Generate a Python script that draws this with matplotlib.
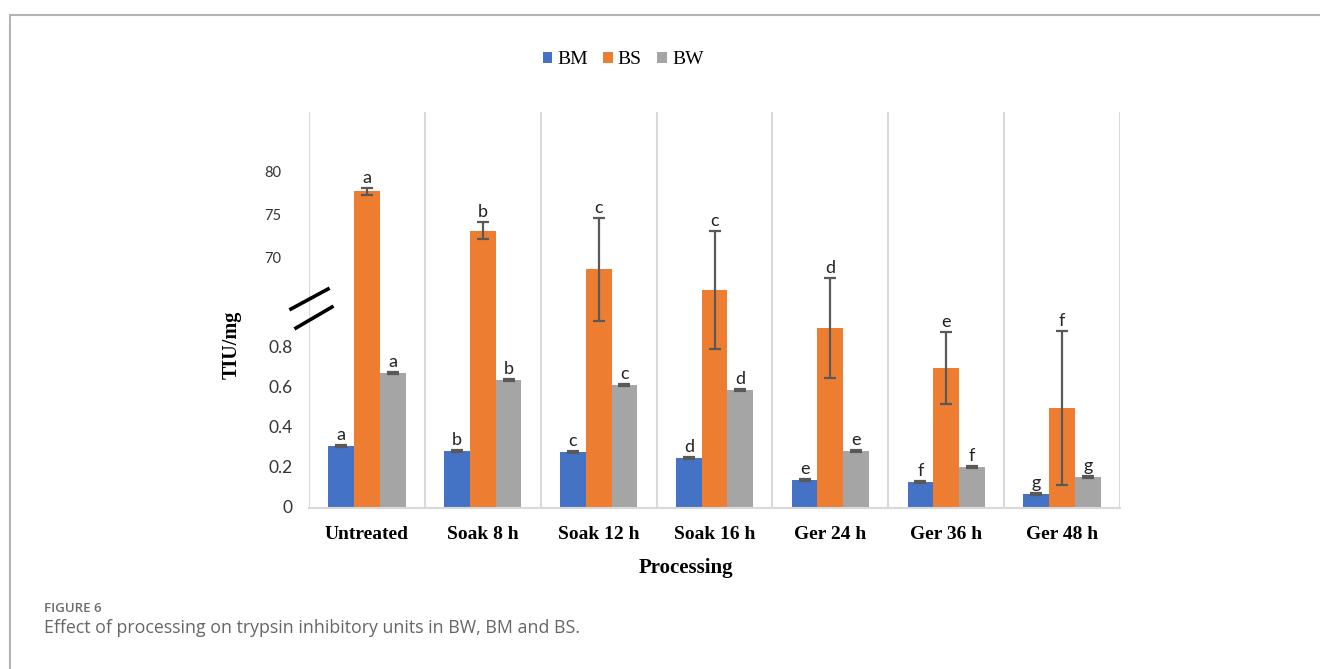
import numpy as np
import matplotlib
matplotlib.use("Agg")
import matplotlib.pyplot as plt
from matplotlib.patches import Patch, Rectangle
from matplotlib.lines import Line2D

# trypsin inhibitory units (TIU/mg) per processing step
groups = ["Untreated", "Soak 8 h", "Soak 12 h", "Soak 16 h", "Ger 24 h", "Ger 36 h", "Ger 48 h"]
series = ["BM", "BS", "BW"]

bm = np.array([0.31, 0.285, 0.28, 0.25, 0.14, 0.13, 0.07])
bs = np.array([77.9, 73.3, 68.8, 66.4, 0.90, 0.70, 0.50])
bw = np.array([0.675, 0.64, 0.615, 0.59, 0.285, 0.205, 0.155])

bm_err = np.array([0.004, 0.004, 0.004, 0.004, 0.004, 0.004, 0.004])
bs_err = np.array([0.4, 1.0, 6.0, 6.9, 0.25, 0.18, 0.385])
bw_err = np.array([0.006, 0.006, 0.005, 0.005, 0.005, 0.005, 0.005])

bm_letters = ["a", "b", "c", "d", "e", "f", "g"]
bs_letters = ["a", "b", "c", "c", "d", "e", "f"]
bw_letters = ["a", "b", "c", "d", "e", "f", "g"]

low_ticks = [0, 0.2, 0.4, 0.6, 0.8]
high_ticks = [70, 75, 80]

colors = ["#4472C4", "#ED7D31", "#A5A5A5"]

# broken axis: small values drawn as is, large ones squeezed above the break
BREAK_BASE = 1.245
BREAK_SCALE = 0.043


def to_axis(v):
    v = np.asarray(v, dtype=float)
    return np.where(v > 10, BREAK_BASE + (v - 70) * BREAK_SCALE, v)


W, H = 1320, 669
fig = plt.figure(figsize=(W / 100, H / 100), dpi=100)

# outer frame
fig.add_artist(Rectangle((10 / W, -0.1), 1.2, 1 - 15 / H + 0.1, transform=fig.transFigure,
                         fill=False, edgecolor="#b4b4b4", lw=1.5))

ax = fig.add_axes([309 / W, 1 - 508 / H, (1120 - 309) / W, (508 - 112) / H])
ax.set_xlim(-0.5, len(groups) - 0.5)
ax.set_ylim(0, 1.98)

x = np.arange(len(groups))
bw_width = 0.222
offsets = [-bw_width, 0, bw_width]

for vals, errs, letters, off, c in zip([bm, bs, bw], [bm_err, bs_err, bw_err],
                                       [bm_letters, bs_letters, bw_letters], offsets, colors):
    tops = to_axis(vals)
    lo = to_axis(vals - errs)
    hi = to_axis(vals + errs)
    ax.bar(x + off, tops, width=bw_width, color=c, zorder=2)
    ax.errorbar(x + off, tops, yerr=[tops - lo, hi - tops], fmt="none", ecolor="#595959",
                elinewidth=1.6, capsize=4, capthick=1.6, zorder=3)
    for xi, h, lab in zip(x + off, hi, letters):
        ax.text(xi, h + 0.01, lab, ha="center", va="bottom", fontsize=13,
                family="Lato", color="#222222", zorder=4)

# category separators
for xv in np.arange(-0.5, len(groups), 1.0):
    ax.axvline(xv, color="#d9d9d9", lw=1.5, zorder=1)

for s in ["top", "right", "left"]:
    ax.spines[s].set_visible(False)
ax.spines["bottom"].set_color("#d9d9d9")
ax.spines["bottom"].set_linewidth(1.5)

ax.set_yticks([])
ax.set_xticks(x)
ax.set_xticklabels(groups, family="Liberation Serif", fontweight="bold", fontsize=14)
ax.tick_params(axis="x", length=0, pad=13)

ytrans = ax.get_yaxis_transform()
for t in low_ticks:
    ax.text(-0.02, t, f"{t:g}", transform=ytrans, ha="right", va="center",
            fontsize=12.5, family="Lato", color="#333333")
for t in high_ticks:
    ax.text(-0.034, to_axis(t), f"{t}", transform=ytrans, ha="right", va="center",
            fontsize=10.5, family="Lato", color="#333333")

# break marks
for (x0, y0, x1, y1) in [(291, 309, 328, 289), (296, 328, 332, 307)]:
    fig.add_artist(Line2D([x0 / W, x1 / W], [1 - y0 / H, 1 - y1 / H],
                          transform=fig.transFigure, color="black", lw=2.6))

fig.text(232 / W, 1 - 345 / H, "TIU/mg", rotation=90, ha="center", va="center",
         family="Liberation Serif", fontweight="bold", fontsize=14.5)
fig.text(686 / W, 1 - 568 / H, "Processing", ha="center", va="center",
         family="Liberation Serif", fontweight="bold", fontsize=15)

handles = [Patch(facecolor=c, edgecolor="none") for c in colors]
fig.legend(handles, series, loc="center", bbox_to_anchor=(623 / W, 1 - 60 / H), ncol=3,
           frameon=False, handlelength=0.5, handleheight=0.5, handletextpad=0.25,
           columnspacing=0.8, prop={"family": "Liberation Serif", "size": 14})

fig.text(44 / W, 1 - 608 / H, "FIGURE 6", ha="left", va="center", family="Open Sans",
         fontweight="semibold", fontsize=9.5, color="#6b6b6b")
fig.text(44 / W, 1 - 628 / H, "Effect of processing on trypsin inhibitory units in BW, BM and BS.",
         ha="left", va="center", family="Open Sans", fontsize=12.8, color="#666666")

fig.savefig("out.png", dpi=100)
